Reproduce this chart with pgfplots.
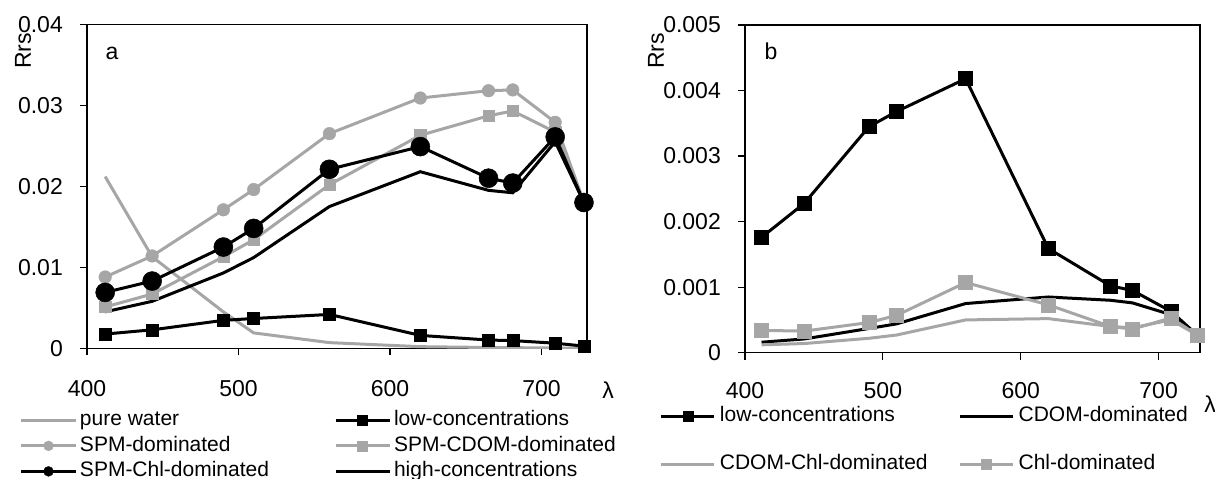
\documentclass[border=0pt]{standalone}
\usepackage{fontspec}
\setmainfont{Liberation Sans}
\usepackage{pgfplots}
\pgfplotsset{compat=1.18}
\definecolor{lg}{RGB}{166,166,166}

\pgfplotsset{
  common/.style={
    scale only axis,
    anchor=south west,
    xmin=400, xmax=730, ymin=0,
    axis line style={line width=1.2pt},
    every tick/.style={black, line width=1.2pt},
    tick align=outside, major tick length=7pt,
    xtick={400,500,600,700},
    xtick pos=bottom, ytick pos=left,
    scaled y ticks=false,
    /pgf/number format/assume math mode=true,
    ticklabel style={font=\fontsize{23}{27}\selectfont},
    xticklabel style={anchor=center, inner sep=0pt, yshift=-33pt},
    yticklabel style={/pgf/number format/fixed, /pgf/number format/precision=3, anchor=east, inner sep=0pt, xshift=-17pt},
    legend columns=2,
    legend cell align=left,
    legend image code/.code={\draw[mark repeat=2,mark phase=2,##1] plot coordinates {(0pt,0pt) (27pt,0pt) (54pt,0pt)};},
  },
  lgline/.style={color=lg, line width=3pt},
  bkline/.style={color=black, line width=3pt},
}

\begin{document}
\fontsize{21}{25}\selectfont
\begin{tikzpicture}

% ---------------- panel a ----------------
\begin{axis}[common,
  at={(87pt,130.7pt)}, width=500pt, height=324pt,
  ymax=0.04, ytick={0,0.01,0.02,0.03,0.04},
  legend style={at={(axis description cs:-0.134,-0.190)}, anchor=north west,
    draw=none, fill=none, inner sep=0pt, outer sep=0pt, row sep=4.5pt,
    font=\fontsize{21}{25}\selectfont,
    nodes={inner xsep=3pt, inner ysep=1pt, text height=15pt, text depth=4pt},
    /tikz/every even column/.append style={column sep=62pt}},
]
% pure water
\addplot[lgline, forget plot] coordinates {
(412,0.0212) (443,0.0113) (490,0.0045) (510,0.0019) (560,0.0007) (620,0.0002) (665,0.0001) (681,0.00008) (709,0.00003) (728,0.00002)};
% low-concentrations
\addplot[bkline, mark=square*, mark size=6pt, mark options={solid, line width=0.5pt}, forget plot] coordinates {
(412,0.00176) (443,0.00228) (490,0.00345) (510,0.00368) (560,0.00418) (620,0.00159) (665,0.00102) (681,0.00095) (709,0.00063) (728,0.00027)};
% SPM-dominated
\addplot[lgline, mark=*, mark size=6.3pt, mark options={solid, line width=0.5pt}, forget plot] coordinates {
(412,0.0088) (443,0.0114) (490,0.0171) (510,0.0196) (560,0.0265) (620,0.0309) (665,0.0318) (681,0.0319) (709,0.0279) (728,0.0180)};
% SPM-CDOM-dominated
\addplot[lgline, mark=square*, mark size=5.6pt, mark options={solid, line width=0.5pt}, forget plot] coordinates {
(412,0.0051) (443,0.0067) (490,0.0113) (510,0.0134) (560,0.0202) (620,0.0263) (665,0.0287) (681,0.0293) (709,0.0267) (728,0.0180)};
% SPM-Chl-dominated
\addplot[bkline, mark=*, mark size=9.5pt, mark options={solid, line width=0.5pt}, forget plot] coordinates {
(412,0.0069) (443,0.0083) (490,0.0125) (510,0.0148) (560,0.0221) (620,0.0249) (665,0.0210) (681,0.0204) (709,0.0261) (728,0.0180)};
% high-concentrations
\addplot[bkline, forget plot] coordinates {
(412,0.0045) (443,0.0058) (490,0.0093) (510,0.0112) (560,0.0175) (620,0.0218) (665,0.0195) (681,0.0192) (709,0.0255) (728,0.0180)};

\addlegendimage{lgline}
\addlegendentry{pure water}
\addlegendimage{bkline, mark=square*, mark size=5pt, mark options={solid, line width=0.3pt}}
\addlegendentry{low-concentrations}
\addlegendimage{lgline, mark=*, mark size=5pt, mark options={solid, line width=0.3pt}}
\addlegendentry{SPM-dominated}
\addlegendimage{lgline, mark=square*, mark size=5pt, mark options={solid, line width=0.3pt}}
\addlegendentry{SPM-CDOM-dominated}
\addlegendimage{bkline, mark=*, mark size=5pt, mark options={solid, line width=0.3pt}}
\addlegendentry{SPM-Chl-dominated}
\addlegendimage{bkline}
\addlegendentry{high-concentrations}
\end{axis}

% ---------------- panel b ----------------
\begin{axis}[common,
  at={(745pt,126.3pt)}, width=455pt, height=327.7pt,
  ymax=0.005, ytick={0,0.001,0.002,0.003,0.004,0.005},
  xticklabel style={yshift=2pt},
  legend style={at={(axis description cs:-0.187,-0.162)}, anchor=north west,
    draw=none, fill=none, inner sep=0pt, outer sep=0pt, row sep=27pt,
    font=\fontsize{21}{25}\selectfont,
    nodes={inner xsep=4pt, inner ysep=1pt, text height=15pt, text depth=4pt},
    /tikz/every even column/.append style={column sep=27pt}},
  legend image code/.code={\draw[mark repeat=2,mark phase=2,#1] plot coordinates {(0pt,0pt) (26.5pt,0pt) (53pt,0pt)};},
]
% low-concentrations
\addplot[bkline, mark=square*, mark size=7pt, mark options={solid, line width=0.5pt}, forget plot] coordinates {
(412,0.00176) (443,0.00228) (490,0.00345) (510,0.00368) (560,0.00418) (620,0.00159) (665,0.00102) (681,0.00095) (709,0.00063) (728,0.00027)};
% CDOM-dominated
\addplot[bkline, forget plot] coordinates {
(412,0.00016) (443,0.00021) (490,0.00037) (510,0.00044) (560,0.00075) (620,0.00085) (665,0.00080) (681,0.00076) (709,0.00058) (728,0.00028)};
% CDOM-Chl-dominated
\addplot[lgline, forget plot] coordinates {
(412,0.00012) (443,0.00014) (490,0.00022) (510,0.00027) (560,0.00050) (620,0.00052) (665,0.00040) (681,0.00038) (709,0.00050) (728,0.00027)};
% Chl-dominated
\addplot[lgline, mark=square*, mark size=7pt, mark options={solid, line width=0.5pt}, forget plot] coordinates {
(412,0.00034) (443,0.00033) (490,0.00046) (510,0.00057) (560,0.00107) (620,0.00073) (665,0.00040) (681,0.00036) (709,0.00053) (728,0.00027)};

\addlegendimage{bkline, mark=square*, mark size=5pt, mark options={solid, line width=0.3pt}}
\addlegendentry{low-concentrations}
\addlegendimage{bkline}
\addlegendentry{CDOM-dominated}
\addlegendimage{lgline}
\addlegendentry{CDOM-Chl-dominated}
\addlegendimage{lgline, mark=square*, mark size=5pt, mark options={solid, line width=0.3pt}}
\addlegendentry{Chl-dominated}
\end{axis}

% labels
\node[rotate=90, inner sep=0pt, font=\fontsize{23}{27}\selectfont] at (23pt,428pt) {Rrs};
\node[rotate=90, inner sep=0pt, font=\fontsize{23}{27}\selectfont] at (656pt,428pt) {Rrs};
\node[inner sep=0pt, font=\fontsize{23}{27}\selectfont] at (112pt,426pt) {a};
\node[inner sep=0pt, font=\fontsize{23}{27}\selectfont] at (771pt,428pt) {b};
\node[inner sep=0pt, font=\fontsize{23}{27}\selectfont] at (608pt,89pt) {λ};
\node[inner sep=0pt, font=\fontsize{23}{27}\selectfont] at (1210pt,75pt) {λ};

\pgfresetboundingbox
\useasboundingbox (0pt,0pt) rectangle (1215pt,479pt);
\end{tikzpicture}
\end{document}
